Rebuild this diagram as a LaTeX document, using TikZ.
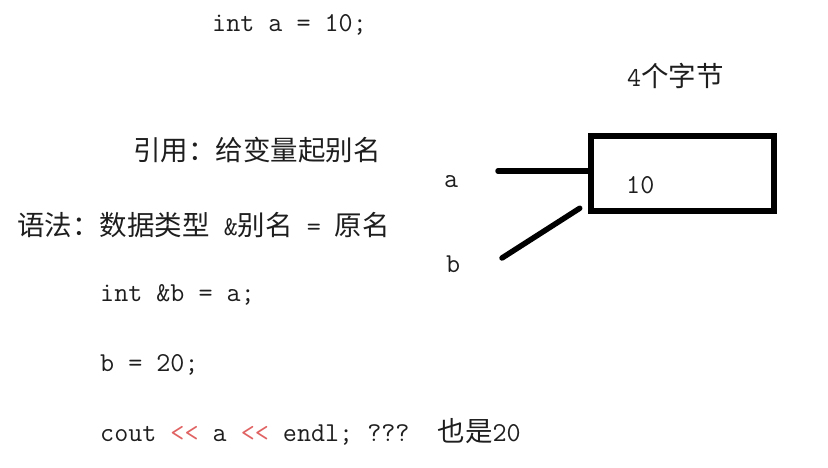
\documentclass[tikz,border=0pt]{standalone}
\usepackage{fontspec}
\newfontfamily\cjk{Noto Sans CJK SC}
\definecolor{ink}{HTML}{1E1E1E}
\definecolor{op}{HTML}{E06262}
\newcommand{\zh}[1]{{\cjk\fontsize{27.5}{32}\selectfont #1}}
\tikzset{
  code/.style={anchor=base west, inner sep=0pt, text=ink, font=\ttfamily\fontsize{27.3}{32}\selectfont},
  thick line/.style={line width=5.5pt, line cap=round, draw=black},
  memory/.style={draw=black, line width=6.5pt, minimum width=183pt, minimum height=75pt, inner sep=0pt}
}
\begin{document}
\begin{tikzpicture}[x=1pt,y=-1pt]
\path[use as bounding box] (0,0) rectangle (828,467);
% left column text
\node[code] (l1) at (212,31) {int a = 10;};
\node[code] (l2) at (133,160) {\zh{引用：给变量起别名}};
\node[code] (l3) at (17,235) {\zh{语法：数据类型}\ \&\zh{别名}\ =\ \zh{原名}};
\node[code] (l4) at (100,301) {int \&b = a;};
\node[code] (l5) at (100,371) {b = 20;};
\node[code] (l6) at (100,441) {cout {\color{op}<\kern0pt<} a {\color{op}<\kern0pt<} endl; ???\ \ \zh{也是}20};
% memory diagram
\node[code] (size) at (627,86) {4\zh{个字节}};
\node[memory] (box) at (682.5,173.5) {};
\node[code] (val) at (626,193) {10};
\node[code] (la) at (444,187) {a};
\node[code] (lb) at (446,272) {b};
\coordinate (ta) at (498,171);
\coordinate (tb) at (502,258);
\draw[thick line] (ta) -- (ta -| box.west);
\draw[thick line] (tb) -- ([xshift=-8pt,yshift=6pt]box.south west);
\end{tikzpicture}
\end{document}
